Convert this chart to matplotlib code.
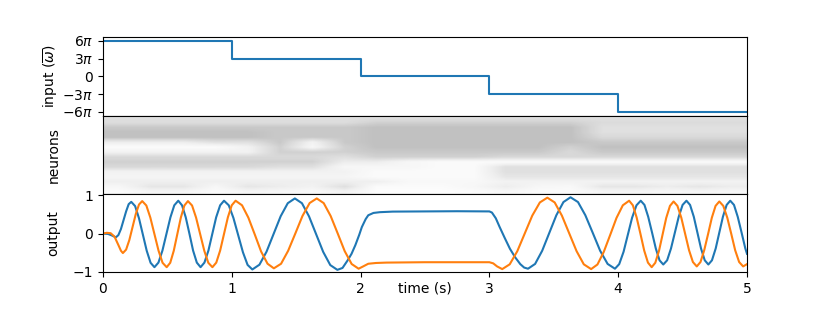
import numpy as np
import matplotlib
matplotlib.use("Agg")
import matplotlib.pyplot as plt

# input signal (steps, in units of pi)
step_t = [0, 1, 2, 3, 4, 5]
step_w = [6, 3, 0, -3, -6, -6]

# spike raster read as darkness per neuron band (rows, top to bottom) x 0.25 s bins
raster = [
    [.30, .30, .30, .30, .30, .30, .30, .30, .30, .30, .30, .30, .30, .30, .30, .30, .30, .30, .30, .30],
    [.32, .32, .32, .32, .32, .32, .32, .32, .40, .40, .40, .40, .40, .40, .40, .33, .33, .33, .33, .33],
    [.45, .45, .45, .45, .45, .45, .45, .45, .50, .50, .50, .50, .50, .50, .50, .30, .30, .30, .30, .30],
    [.50, .50, .50, .50, .50, .45, .45, .45, .50, .50, .50, .50, .50, .50, .50, .30, .30, .30, .30, .30],
    [.50, .50, .50, .50, .50, .45, .45, .45, .50, .50, .50, .50, .50, .50, .50, .35, .35, .35, .35, .35],
    [.20, .20, .20, .30, .30, .45, .15, .45, .50, .50, .50, .50, .50, .50, .50, .45, .45, .45, .45, .45],
    [.05, .05, .05, .05, .15, .40, .10, .40, .50, .50, .50, .50, .50, .50, .40, .50, .50, .50, .50, .50],
    [.15, .15, .15, .15, .15, .40, .40, .40, .45, .45, .45, .45, .45, .45, .35, .45, .45, .45, .45, .45],
    [.35, .35, .35, .35, .35, .35, .35, .30, .40, .40, .40, .40, .35, .35, .35, .35, .35, .35, .35, .35],
    [.40, .40, .40, .40, .40, .40, .40, .20, .20, .10, .05, .05, .05, .05, .05, .05, .05, .05, .05, .05],
    [.35, .35, .35, .35, .35, .30, .30, .10, .10, .10, .05, .05, .30, .30, .30, .30, .30, .30, .30, .30],
    [.15, .15, .15, .15, .15, .15, .15, .15, .05, .05, .05, .05, .30, .30, .30, .30, .30, .30, .30, .30],
    [.12, .12, .12, .12, .12, .12, .12, .12, .05, .05, .05, .05, .25, .25, .25, .25, .25, .25, .25, .25],
    [.18, .18, .18, .18, .18, .18, .18, .18, .18, .08, .08, .08, .15, .15, .15, .15, .15, .15, .15, .15],
    [.10, .25, .25, .10, .25, .20, .15, .30, .05, .05, .05, .10, .20, .10, .08, .25, .25, .20, .25, .20],
    [.05, .12, .12, .05, .12, .10, .08, .15, .03, .03, .03, .05, .10, .05, .05, .12, .12, .10, .12, .10],
]

# decoded output, first dimension (blue)
blue_t = [0, 0.04, 0.07, 0.10, 0.12, 0.14, 0.16, 0.18, 0.20, 0.22,
          0.25, 0.28, 0.31, 0.34, 0.37, 0.40,
          0.431, 0.462, 0.493, 0.524, 0.554, 0.585,
          0.614, 0.643, 0.672, 0.700, 0.729, 0.758,
          0.788, 0.819, 0.849, 0.879, 0.910, 0.940,
          0.977, 1.013, 1.050, 1.087, 1.123, 1.160,
          1.215, 1.270, 1.325, 1.380, 1.435, 1.490,
          1.545, 1.600, 1.655, 1.710, 1.765, 1.820,
          1.86, 1.90, 1.93, 1.96, 1.99, 2.01, 2.04, 2.06, 2.10, 2.15, 2.25, 2.5, 2.75, 3.0,
          3.02, 3.05, 3.08, 3.12, 3.16, 3.20, 3.24, 3.27, 3.30,
          3.355, 3.410, 3.465, 3.520, 3.575, 3.630,
          3.688, 3.745, 3.803, 3.860, 3.918, 3.975,
          4.008, 4.042, 4.075, 4.108, 4.142, 4.175,
          4.204, 4.233, 4.263, 4.292, 4.321, 4.350,
          4.38, 4.41, 4.44, 4.47, 4.50, 4.53,
          4.558, 4.587, 4.615, 4.643, 4.672, 4.700,
          4.728, 4.757, 4.785, 4.813, 4.842, 4.870,
          4.899, 4.928, 4.958, 4.987, 5.0]
blue_v = [0, -0.01, -0.05, -0.10, -0.04, 0.12, 0.35, 0.58, 0.77, 0.83,
          0.72, 0.40, -0.025, -0.45, -0.765, -0.88,
          -0.76, -0.445, -0.01, 0.425, 0.74, 0.86,
          0.74, 0.425, -0.01, -0.445, -0.76, -0.88,
          -0.76, -0.445, -0.01, 0.425, 0.74, 0.86,
          0.74, 0.41, -0.04, -0.49, -0.82, -0.94,
          -0.815, -0.475, -0.01, 0.455, 0.795, 0.92,
          0.795, 0.45, -0.015, -0.48, -0.825, -0.95,
          -0.90, -0.70, -0.53, -0.30, -0.03, 0.17, 0.38, 0.48, 0.54, 0.56, 0.575, 0.58, 0.585, 0.58,
          0.55, 0.40, 0.17, -0.12, -0.40, -0.62, -0.80, -0.89, -0.92,
          -0.795, -0.45, 0.015, 0.48, 0.825, 0.95,
          0.825, 0.48, 0.015, -0.45, -0.795, -0.92,
          -0.80, -0.475, -0.03, 0.415, 0.74, 0.86,
          0.75, 0.44, 0.025, -0.39, -0.70, -0.81,
          -0.70, -0.39, 0.025, 0.44, 0.75, 0.86,
          0.75, 0.44, 0.025, -0.39, -0.70, -0.81,
          -0.70, -0.39, 0.025, 0.44, 0.75, 0.86,
          0.75, 0.44, 0.025, -0.39, -0.53]

# decoded output, second dimension (orange)
orange_t = [0, 0.03, 0.06, 0.09, 0.12, 0.14, 0.155,
            0.18, 0.205, 0.23, 0.255, 0.28, 0.305,
            0.337, 0.368, 0.400, 0.432, 0.463, 0.495,
            0.5225, 0.55, 0.5775, 0.605, 0.6325, 0.66,
            0.692, 0.723, 0.755, 0.787, 0.818, 0.850,
            0.88, 0.91, 0.94, 0.97, 1.00, 1.03,
            1.08, 1.129, 1.179, 1.228, 1.278, 1.327,
            1.383, 1.438, 1.494, 1.549, 1.605, 1.66,
            1.714, 1.768, 1.823, 1.877, 1.931, 1.985,
            2.02, 2.06, 2.12, 2.2, 2.5, 2.75, 3.0,
            3.03, 3.06, 3.10,
            3.158, 3.217, 3.275, 3.333, 3.392, 3.45,
            3.507, 3.563, 3.62, 3.677, 3.733, 3.79,
            3.839, 3.888, 3.938, 3.987, 4.036, 4.085,
            4.114, 4.143, 4.173, 4.202, 4.231, 4.26,
            4.288, 4.317, 4.345, 4.373, 4.402, 4.43,
            4.46, 4.49, 4.52, 4.55, 4.58, 4.61,
            4.639, 4.668, 4.698, 4.727, 4.756, 4.785,
            4.816, 4.847, 4.878, 4.908, 4.939, 4.97,
            5.0]
orange_v = [0, 0.02, 0.01, -0.08, -0.30, -0.45, -0.51,
            -0.42, -0.17, 0.17, 0.51, 0.76, 0.85,
            0.735, 0.42, -0.015, -0.45, -0.765, -0.88,
            -0.765, -0.45, -0.015, 0.42, 0.735, 0.85,
            0.735, 0.42, -0.015, -0.45, -0.765, -0.88,
            -0.76, -0.445, -0.01, 0.425, 0.74, 0.86,
            0.74, 0.4175, -0.025, -0.47, -0.79, -0.91,
            -0.79, -0.45, 0.005, 0.46, 0.80, 0.92,
            0.797, 0.46, 0.0, -0.46, -0.797, -0.92,
            -0.86, -0.79, -0.77, -0.76, -0.75, -0.75, -0.75,
            -0.78, -0.86, -0.93,
            -0.805, -0.46, 0.005, 0.47, 0.815, 0.94,
            0.815, 0.47, 0.005, -0.46, -0.805, -0.93,
            -0.81, -0.48, -0.035, 0.41, 0.74, 0.86,
            0.74, 0.425, -0.01, -0.445, -0.76, -0.88,
            -0.765, -0.45, -0.02, 0.41, 0.725, 0.84,
            0.725, 0.415, -0.01, -0.435, -0.745, -0.86,
            -0.745, -0.435, -0.01, 0.415, 0.725, 0.84,
            0.725, 0.415, -0.01, -0.435, -0.745, -0.86,
            -0.80]

fig, (ax1, ax2, ax3) = plt.subplots(3, 1, sharex=True, figsize=(8.3, 3.12), dpi=100)
fig.subplots_adjust(left=0.124, right=0.9, top=0.881, bottom=0.127, hspace=0)

ax1.plot(step_t, np.array(step_w) * np.pi, drawstyle="steps-post", color="C0")
ax1.set_yticks(np.array([6, 3, 0, -3, -6]) * np.pi)
ax1.set_yticklabels([r"$6\pi$", r"$3\pi$", "0", r"$-3\pi$", r"$-6\pi$"])
ax1.set_ylabel(r"input ($\overline{\omega}$)")
ax1.tick_params(bottom=False, labelbottom=False)

ax2.imshow(raster, cmap="Greys", vmin=0, vmax=1.4, aspect="auto",
           extent=(0, 5, 0, 1), interpolation="bilinear")
ax2.set_ylim(0, 1)
ax2.set_yticks([])
ax2.set_ylabel("neurons")
ax2.tick_params(bottom=False, labelbottom=False)

ax3.plot(blue_t, blue_v, color="C0")
ax3.plot(orange_t, orange_v, color="C1")
ax3.set_ylim(-1.016, 1.037)
ax3.set_yticks([1, 0, -1])
ax3.set_xlim(0, 5)
ax3.set_xticks([0, 1, 2, 3, 4, 5])
ax3.set_ylabel("output")
ax3.set_xlabel("time (s)")
ax3.xaxis.set_label_coords(0.5, -0.115)

for ax in (ax1, ax2, ax3):
    ax.yaxis.set_label_coords(-0.066, 0.5)

plt.savefig("out.png", dpi=100)
